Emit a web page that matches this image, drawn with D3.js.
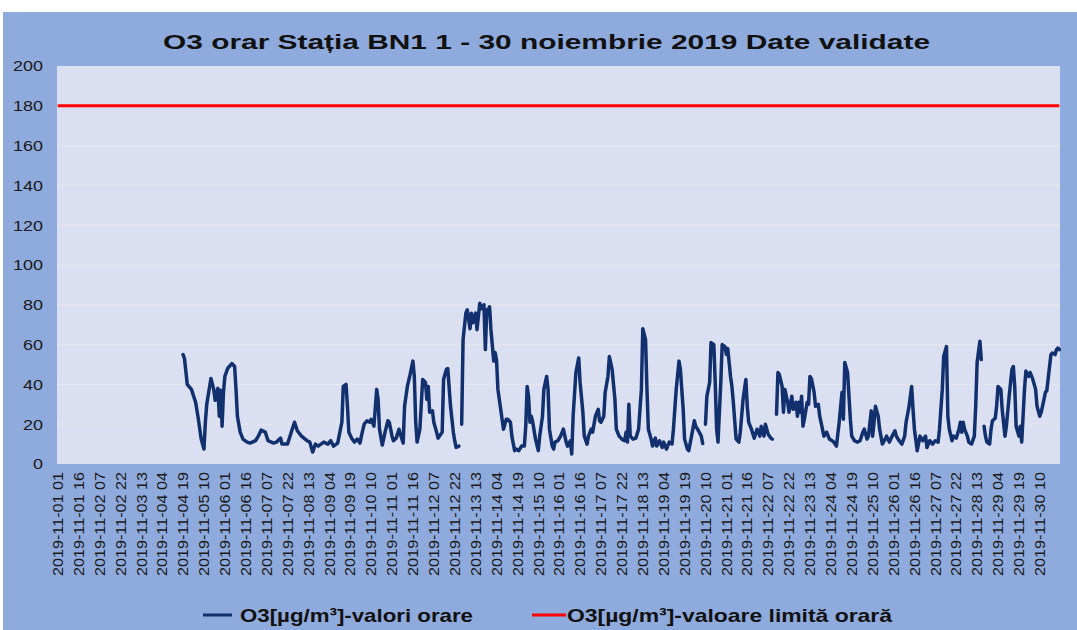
<!DOCTYPE html>
<html>
<head>
<meta charset="utf-8">
<script src="https://cdn.jsdelivr.net/npm/d3@7"></script>
<style>
  html, body { margin: 0; padding: 0; background: #ffffff; }
  svg { display: block; }
  text { font-family: "Liberation Sans", Arial, sans-serif; }
</style>
</head>
<body>
<svg id="chart" width="1077" height="630"></svg>
<script>
// ---------- DATA ----------
const titleText = "O3 orar Stația BN1 1 - 30 noiembrie 2019 Date validate";
const seriesNames = ["O3[µg/m³]-valori orare", "O3[µg/m³]-valoare limită orară"];
const yTicks = [0, 20, 40, 60, 80, 100, 120, 140, 160, 180, 200];
const hourCount = 720;               // 2019-11-01 01 ... 2019-11-30 24
const labelStep = 15;                // every 15th hour labelled
const limitValue = 180;              // hourly limit value
// hourly O3 readings [hour index, µg/m³]; null = missing data
const o3Readings = [
  [90,55],[91,53],[93,40],[96,37.5],[99,31],[101,22.5],[103,12.5],[105,7.5],[106,21],[107,30],
  [110,43],[112,37.5],[113,32],[115,38],[116,24],[117,37],[118,19],[119,36],[120,44],[122,48],
  [125,50.5],[127,49],[128,37.5],[129,24],[131,16],[133,12.5],[136,11],[138,10.5],[142,11.7],[144,14],
  [146,17],[149,16],[151,11.7],[155,10.5],[157,11],[160,13],[161,10],[165,10],[168,16.7],[170,21],
  [172,16.7],[175,14],[179,11.7],[181,11],[183,6],[185,10],[187,9],[191,11],[194,10],
  [196,11.7],[198,9],[201,10.5],[204,21],[205,39],[207,40],[208,29],[209,16],[211,13],[213,11],
  [215,12.5],[217,10.5],[218,14],[220,20],[222,21.7],[224,21],[225,22.5],[227,19],[229,37.5],[230,32.5],
  [231,17.5],[233,9.5],[235,16],[237,21.7],[238,21],[240,14],[241,11.7],[243,13],[245,17.5],[246,15],
  [248,10.5],[249,29],[251,39],[253,45],[255,51.7],[256,44],[257,21],[258,11],[260,17.5],[262,42.5],
  [264,41],[265,32.5],[266,39],[267,26],[269,26.7],[270,21],[272,16],[273,13],[276,16],[277,42.5],
  [279,47.5],[280,48],[282,29],[284,16],[285,11.7],[286,8.3],[288,9],[289,null],
  [290,20],[291,62.5],[293,75.8],[294,77.5],[296,68],[297,75.8],[298,71],[300,75.8],[301,67.5],[303,80.8],
  [304,78],[306,80],[307,57.5],[308,77.5],[309,77.5],[310,79],[311,67.5],[313,51.7],[314,56],[315,52.5],
  [316,37.5],[318,27.5],[320,17.5],[322,22.5],[323,22.5],[325,21],[326,14],[328,6.7],[329,7.5],[331,6.7],
  [333,9],[335,9],[336,19],[337,39],[338,34],[339,21],[340,24],[341,21],[343,12.5],[345,6.7],
  [346,14],[348,24],[349,37.5],[351,44],[352,37.5],[353,17.5],[355,9],[356,7.5],[357,11],[359,11.7],
  [361,14],[363,17.5],[365,11],[366,9],[368,11.7],[369,5],[370,24],[372,46],[374,53.3],[375,41],
  [377,26],[378,14],[380,10],[381,14],[383,17.5],[384,16],[386,24],[388,27.5],[389,21.7],[390,21],
  [392,24],[393,36],[395,44],[396,54],[398,47.5],[400,32.5],[401,17.5],[403,14],[405,12.5],[407,11.7],
  [408,16],[409,11],[410,30],[411,14],[413,12.5],[415,13],[417,17.5],[419,37.5],[420,68],[422,62.5],
  [423,37.5],[424,17.5],[426,12.5],[427,9],[429,13],[430,9],[432,11.7],[434,8.3],[435,11],[437,7.5],
  [439,11],[441,10],[442,17.5],[444,37.5],[446,51.7],[447,47.5],[449,27.5],[450,12.5],[452,7.5],[453,6.7],
  [455,14],[457,21.7],[458,19],[460,16.7],[462,14],[463,10.3],[464,null],
  [465,20],[466,34],[468,41],[469,61],[471,60],[472,41],[473,17.5],[474,11],[476,41],[477,60],
  [479,59],[480,55],[481,58],[483,44],[484,39],[485,31],[487,12.5],[489,11],[490,16],[492,32.5],
  [494,42.5],[495,29],[496,21],[498,17.5],[500,13],[502,17.5],[504,14],[505,19],[507,14],[508,20],
  [510,15],[512,13],[513,12.5],[514,null],
  [516,25],[517,46],[518,45],[520,39],[521,26],[522,37.5],[524,31],[525,26],[527,34],[528,27.5],
  [530,31],[531,24],[532,31],[533,26],[534,34],[535,19],[536,22.5],[538,31],[539,30],[540,44],
  [541,43],[543,36],[544,29],[546,30],[547,24],[549,17.5],[550,14],[552,16],[554,12.5],[556,11.7],
  [557,11],[559,9],[561,21],[563,36],[564,22.5],[565,51],[567,46],[569,22.5],[570,14],[572,11.7],
  [574,11],[576,11.7],[578,16],[579,17.5],[581,12.5],[582,14],[584,26.7],[585,14],[586,21],[587,29],
  [589,24],[590,17.5],[592,10],[594,12.5],[595,14],[597,11],[599,14],[601,16.7],[602,14],[604,11.7],
  [606,10],[608,14],[609,21],[611,28.3],[613,39],[614,27.5],[615,17.5],[617,6.7],[619,14],[621,11.7],
  [623,14],[624,8.3],[626,11.7],[628,10],[630,11.7],[632,11],[633,17.5],[635,37.5],[636,54],[638,59],
  [639,24],[640,17.5],[642,11.7],[643,14],[645,13],[647,17.5],[648,21],[649,16],[650,21],[651,17.5],
  [653,14],[654,11],[656,10],[658,14],[659,29],[660,51],[662,61.7],[663,52.5],[664,null],
  [665,19],[666,14],[667,11],[669,10],[670,17.5],[671,21.7],[673,23],[674,29],[675,39],[677,37.5],
  [678,27.5],[680,14],[681,19],[683,34],[685,47.5],[686,49],[687,39],[688,19],[690,14],[691,19],
  [692,11],[693,24],[694,37.5],[695,46.7],[697,44],[698,46],[700,42.5],[702,37.5],[703,29],[705,24],
  [706,26],[708,32.5],[709,36],[710,36.7],[712,49],[713,55],[714,55.8],[716,55],[717,57.5],[718,58.3],
  [719,57.5]
];

// ---------- BUILD ----------
const pad = n => String(n).padStart(2, "0");
const categories = d3.range(hourCount).map(k => `2019-11-${pad(Math.floor(k / 24) + 1)} ${pad(k % 24 + 1)}`);
const tickLabels = categories.filter((c, k) => k % labelStep === 0);

const W = 1077, H = 630;
const plot = { left: 57, right: 1060, top: 66, bottom: 464 };

const svg = d3.select("#chart");

// chart area background
svg.append("rect").attr("x", 3).attr("y", 12).attr("width", W - 3).attr("height", H - 12)
  .attr("fill", "#8FAADC");

// plot area
svg.append("rect")
  .attr("x", plot.left).attr("y", plot.top)
  .attr("width", plot.right - plot.left).attr("height", plot.bottom - plot.top)
  .attr("fill", "#DAE0F2");

const x = d3.scaleBand().domain(categories).range([plot.left, plot.right]).padding(0);
const xc = c => x(c) + x.bandwidth() / 2;
const y = d3.scaleLinear().domain([0, 200]).range([plot.bottom, plot.top]);

// gridlines
svg.append("g").selectAll("line").data(yTicks.filter(v => v > 0 && v < 200)).join("line")
  .attr("x1", plot.left).attr("x2", plot.right)
  .attr("y1", d => y(d)).attr("y2", d => y(d))
  .attr("stroke", "#E7E6EC").attr("stroke-width", 1.2);

// y axis
const yAxis = svg.append("g").attr("transform", `translate(${plot.left},0)`)
  .call(d3.axisLeft(y).tickValues(yTicks).tickSize(0).tickPadding(14));
yAxis.select(".domain").remove();
yAxis.selectAll("text")
  .attr("font-size", 15.5).attr("fill", "#1a1a1a")
  .attr("font-family", "'Liberation Sans', Arial, sans-serif")
  .attr("textLength", d => String(d).length * 10)
  .attr("lengthAdjust", "spacingAndGlyphs");

// x axis
const xAxis = svg.append("g").attr("transform", `translate(0,${plot.bottom})`)
  .call(d3.axisBottom(x).tickValues(tickLabels).tickSize(0));
xAxis.select(".domain").remove();
xAxis.selectAll("text")
  .attr("transform", "rotate(-90)")
  .attr("text-anchor", "end")
  .attr("x", -8).attr("y", 0).attr("dy", "0.36em")
  .attr("font-size", 14.5).attr("fill", "#1a1a1a")
  .attr("font-family", "'Liberation Sans', Arial, sans-serif")
  .attr("textLength", 104)
  .attr("lengthAdjust", "spacingAndGlyphs");

// limit line
const limitLine = d3.line().x(c => xc(c)).y(() => y(limitValue));
svg.append("path").datum([categories[0], categories[hourCount - 1]])
  .attr("d", limitLine)
  .attr("fill", "none").attr("stroke", "#FF0000").attr("stroke-width", 3);

// O3 series
const o3Line = d3.line()
  .defined(d => d[1] !== null)
  .x(d => xc(categories[d[0]]))
  .y(d => y(d[1]))
  .curve(d3.curveLinear);
svg.append("path").datum(o3Readings)
  .attr("d", o3Line)
  .attr("fill", "none").attr("stroke", "#13306E").attr("stroke-width", 3.5)
  .attr("stroke-linejoin", "round").attr("stroke-linecap", "round");

// title
svg.append("text").attr("x", 163).attr("y", 49)
  .attr("font-size", 21).attr("font-weight", "bold").attr("fill", "#111")
  .attr("textLength", 767).attr("lengthAdjust", "spacingAndGlyphs")
  .text(titleText);

// legend
const legend = [
  { name: seriesNames[0], color: "#13306E", x1: 203, x2: 232, tx: 240, tl: 233 },
  { name: seriesNames[1], color: "#FF0000", x1: 532, x2: 566, tx: 567, tl: 325 }
];
const lg = svg.append("g");
lg.selectAll("line").data(legend).join("line")
  .attr("x1", d => d.x1).attr("x2", d => d.x2)
  .attr("y1", 615).attr("y2", 615)
  .attr("stroke", d => d.color).attr("stroke-width", 3);
lg.selectAll("text").data(legend).join("text")
  .attr("x", d => d.tx).attr("y", 622)
  .attr("font-size", 18.5).attr("font-weight", "bold").attr("fill", "#111")
  .attr("textLength", d => d.tl).attr("lengthAdjust", "spacingAndGlyphs")
  .text(d => d.name);
</script>
</body>
</html>
